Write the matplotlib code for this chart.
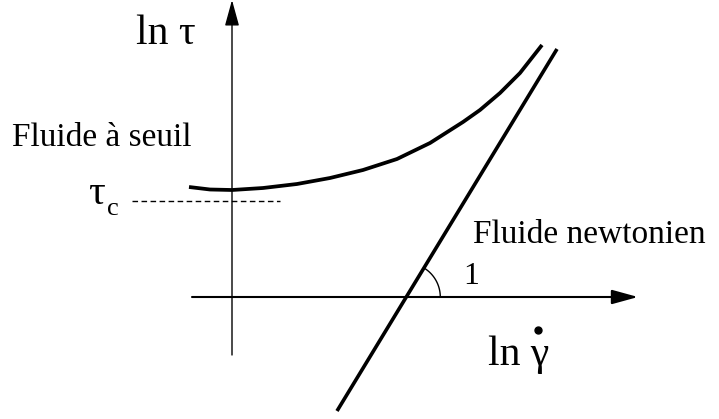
import numpy as np
import matplotlib
matplotlib.use("Agg")
import matplotlib.pyplot as plt

plt.rcParams['font.family'] = ['Liberation Serif', 'DejaVu Serif']

# Schematic values in (ln gamma_dot, ln tau) units, origin at the axes crossing
seuil_x = [-1.075, -0.55, 0.0, 0.775, 1.625, 2.45, 3.275, 4.125, 4.95, 5.775,
           6.2, 6.7, 7.2, 7.75]
seuil_y = [2.75, 2.6875, 2.675, 2.725, 2.825, 2.975, 3.175, 3.45, 3.85, 4.375,
           4.675, 5.1, 5.6, 6.3]
newton_x = [2.625, 8.125]
newton_y = [-2.85, 6.2]
tau_c = 2.4
tau_c_x = [-2.5, 1.2]

fig = plt.figure(figsize=(7.19, 4.19), dpi=100)
ax = fig.add_axes([0, 0, 1, 1])
ax.set_xlim(-5.8, 12.175)
ax.set_ylim(-3.05, 7.425)
ax.axis('off')

# axes with arrows
arrow = dict(arrowstyle='-|>,head_length=0.8,head_width=0.22', color='black',
             shrinkA=0, shrinkB=0, mutation_scale=20)
ax.annotate('', xy=(0, 7.425), xytext=(0, -1.45),
            arrowprops=dict(arrow, lw=1.0))
ax.annotate('', xy=(10.15, 0), xytext=(-1.0, 0),
            arrowprops=dict(arrow, lw=1.5))

# curves
ax.plot(seuil_x, seuil_y, color='black', lw=2.7, solid_capstyle='butt',
        solid_joinstyle='round')
ax.plot(newton_x, newton_y, color='black', lw=2.6, solid_capstyle='butt')
ax.plot(tau_c_x, [tau_c, tau_c], color='black', lw=1.0, ls=(0, (4, 2.5)))

# slope angle arc
x0 = newton_x[0] - newton_y[0] * (newton_x[1] - newton_x[0]) / (newton_y[1] - newton_y[0])
ang = np.arctan2(newton_y[1] - newton_y[0], newton_x[1] - newton_x[0])
t = np.linspace(0, ang, 40)
r = 0.85
ax.plot(x0 + r * np.cos(t), r * np.sin(t), color='black', lw=1.0)

# labels
ax.text(-2.4, 6.325, 'ln τ', fontsize=30, va='baseline', ha='left')
ax.text(-5.5, 3.775, 'Fluide à seuil', fontsize=24, va='baseline', ha='left')
ax.text(-3.6, 2.325, 'τ', fontsize=30, va='baseline', ha='left')
ax.text(-3.125, 2.05, 'c', fontsize=19, va='baseline', ha='left')
ax.text(6.03, 1.35, 'Fluide newtonien', fontsize=24, va='baseline', ha='left')
ax.text(5.78, 0.33, '1', fontsize=23, va='baseline', ha='left')
ax.text(6.4, -1.7, 'ln γ', fontsize=30, va='baseline', ha='left')
# dot over gamma (time derivative)
ax.plot([7.65], [-0.82], 'o', color='black', ms=5)

fig.savefig('out.png', dpi=100)
